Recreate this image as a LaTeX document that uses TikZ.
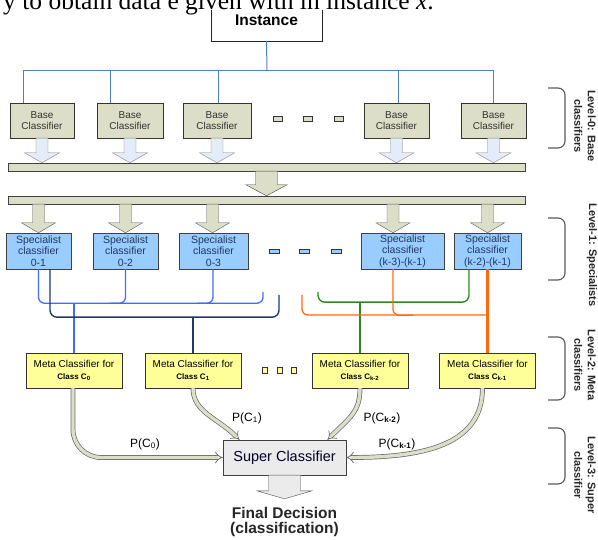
\documentclass[tikz,border=0pt]{standalone}
\usepackage{fontspec}
\setmainfont{Liberation Sans}
\setsansfont{Liberation Sans}
\newfontfamily\pageserif{Liberation Serif}
\usetikzlibrary{positioning, calc, arrows.meta}
\definecolor{olivebox}{HTML}{DCDEC7}
\definecolor{paleblue}{HTML}{E3ECF8}
\definecolor{specblue}{HTML}{99CCFF}
\definecolor{metayellow}{HTML}{FFFF99}
\definecolor{supergray}{HTML}{EBEBEB}
\definecolor{treeblue}{HTML}{4F81BD}
\definecolor{linkblue}{HTML}{3F6BFF}
\definecolor{linknavy}{HTML}{1F3B6E}
\definecolor{linkgreen}{HTML}{2C8A1E}
\definecolor{linkorange}{HTML}{FF6A10}
\definecolor{textnavy}{HTML}{1F3864}
\tikzset{
	basebox/.style={draw=black!80, fill=olivebox, minimum height=35pt, inner sep=0pt,
		align=center, font=\fontsize{10}{11.5}\selectfont\color{black!80}}
}
\tikzset{
	specbox/.style={draw=black!75, fill=specblue, minimum height=36pt, inner sep=0pt,
		align=center, font=\fontsize{10.5}{11.5}\selectfont\color{textnavy}}
}
\tikzset{
	metabox/.style={draw=black!80, fill=metayellow, minimum width=96pt, minimum height=35pt,
		inner sep=0pt, align=center, font=\fontsize{10}{12}\selectfont}
}
\tikzset{
	barbox/.style={draw=black!75, fill=olivebox, minimum width=517pt, minimum height=8pt, inner sep=0pt},
	dotbox/.style={draw=black!80, minimum width=9pt, minimum height=5pt, inner sep=0pt},
	tree/.style={treeblue, line width=1pt},
	pipe/.style={draw=black!60, double=olivebox, line width=0.7pt, double distance=3.4pt, -{Implies}},
	plabel/.style={font=\fontsize{12}{12}\selectfont, inner sep=1pt},
	level/.style={rotate=-90, align=center, font=\bfseries\fontsize{11}{13.5}\selectfont\color{black!85}},
	brack/.style={draw=black!65, line width=1.1pt, rounded corners=7pt}
}
% block arrow pointing down: from, to, half shaft, half head, head length, style
\newcommand{\fatdown}[6]{%
	\filldraw[#6] let \p1=(#1), \p2=(#2) in
	({\x1-#3},{\y1}) -- ({\x1-#3},{\y2+#5}) -- ({\x1-#4},{\y2+#5}) -- ({\x1},{\y2})
	-- ({\x1+#4},{\y2+#5}) -- ({\x1+#3},{\y2+#5}) -- ({\x1+#3},{\y1}) -- cycle;}

\begin{document}
\begin{tikzpicture}[x=1pt,y=-1pt]
      \useasboundingbox (0,0) rectangle (598,540);
      \clip (0,0) rectangle (598,540);

      % instance and the split to the base classifiers
      \node[draw=black!85, minimum width=111pt, minimum height=42pt, inner sep=0pt,
        font=\bfseries\fontsize{15.5}{16}\selectfont] (inst) at (266.5,20) {\raisebox{-2pt}{Instance}};
      \fill[white] (200,-2) rectangle (340,10);
      \node[anchor=base west, inner sep=0pt, font=\pageserif\fontsize{25.5}{28}\selectfont]
        (topline) at (3,9.5) {y to obtain data e given with in instance \textit{x}.};
      \coordinate (split) at (267,71);
      \draw[tree] (inst.south) -- (split);

      % level 0
      \foreach \b/\x/\w in {b1/42/64, b2/130/66, b3/217/68, b4/396.5/65, b5/493.5/65}
        \node[basebox, minimum width=\w pt] (\b) at (\x,120.5) {Base\\Classifier};
      \foreach \x in {278,308,339}
        \node[dotbox, fill=olivebox] (dz\x) at (\x,118.5) {};
      \foreach \b/\dx in {b1/-19, b2/-20, b3/1, b4/1.5, b5/-0.5}
        \draw[tree] (split) -| ([xshift=\dx pt]\b.north);

      \node[barbox] (bar1) at (266.5,167) {};
      \node[barbox] (bar2) at (266.5,200) {};
      \foreach \b in {b1,b2,b3,b4,b5}
        \fatdown{\b.south}{\b.south |- bar1.north}{6pt}{17.5pt}{10pt}{draw=black!50, fill=paleblue};
      \fatdown{bar1.south}{bar1.south |- bar2.north}{11pt}{20.5pt}{11pt}{draw=black!75, fill=olivebox};

      % level 1
      \foreach \s/\x/\w/\t in {s1/38.5/65/0-1, s2/125.5/65/0-2, s3/213.5/69/0-3,
          s4/402.5/83/(k-3)-(k-1), s5/487.5/67/(k-2)-(k-1)}
        \node[specbox, minimum width=\w pt] (\s) at (\x,251) {Specialist\\classifier\\\t};
      \foreach \x in {274,304,336}
        \node[dotbox, fill=specblue, minimum width=10pt, minimum height=4.5pt] (do\x) at (\x,251) {};
      \foreach \s/\dx in {s1/0, s2/0, s3/-1, s4/-9.5, s5/0}
        \fatdown{$(\s.north |- bar2.south)+(\dx,0)$}{$(\s.north)+(\dx,0)$}{6pt}{17pt}{10pt}{draw=black!65, fill=olivebox};

      % level 2
      \node[metabox] (m1) at (74,370.5) {Meta Classifier for\\\textbf{\footnotesize Class C\textsubscript{0}}};
      \node[metabox] (m2) at (193,370.5) {Meta Classifier for\\\textbf{\footnotesize Class C\textsubscript{1}}};
      \node[metabox] (m3) at (360,370.5) {Meta Classifier for\\\textbf{\footnotesize Class C\textsubscript{k-2}}};
      \node[metabox] (m4) at (487.5,370.5) {Meta Classifier for\\\textbf{\footnotesize Class C\textsubscript{k-1}}};
      \foreach \x in {264.5,279.5,293.5}
        \node[dotbox, fill=metayellow, minimum width=5.5pt, minimum height=5.5pt] (dm\x) at (\x,370) {};

      % links from the specialists to the meta classifiers
      \coordinate (lbend) at (263,292);
      \coordinate (nbend) at (279,295);
      \coordinate (gbend) at (318,292);
      \coordinate (obend) at (302,295);
      \draw[linkblue, line width=1.3pt, rounded corners=6pt] (s1.south) -- ++(0,34) -| (lbend);
      \draw[linkblue, line width=1.3pt, rounded corners=6pt] (s2.south) |- +(-16,34);
      \draw[linkblue, line width=1.3pt, rounded corners=6pt] ([xshift=-0.5pt]s3.south) |- +(-16,34);
      \draw[linkblue, line width=2.6pt] (m1.north) -- ++(0,-50);
      \draw[linknavy, line width=1.4pt, rounded corners=7pt] ([xshift=11.5pt]s1.south) -- ++(0,48) -| (nbend);
      \draw[linknavy, line width=2.6pt] (m2.north) -- ++(0,-36);
      \draw[linkgreen, line width=1.4pt, rounded corners=7pt] ([xshift=-18.5pt]s5.south) -- ++(0,33) -| (gbend);
      \draw[linkgreen, line width=2pt] (m3.north) -- ++(0,-51);
      \draw[linkorange, line width=1.3pt, rounded corners=6pt] (obend) -- ++(0,20) -- ++(185,0);
      \draw[linkorange, line width=1.3pt, rounded corners=6pt] ([xshift=-9.5pt]s4.south) |- +(20,46);
      \draw[linkorange, line width=2.6pt] (s5.south) -- (m4.north);

      % level 3
      \node[draw=black!75, fill=supergray, minimum width=123pt, minimum height=35pt, inner sep=0pt,
        font=\fontsize{14.5}{15}\selectfont\color{black!75!blue!60!black}] (sup) at (284.5,457.5) {Super Classifier};
      \node[align=center, inner sep=1pt, font=\bfseries\fontsize{15.5}{15.5}\selectfont\color{black!85}]
        (final) at (284.5,522) {Final Decision\\(classification)};
      \fatdown{sup.south}{[yshift=7pt]final.north}{16pt}{27.5pt}{8pt}{draw=black!70, fill=supergray};

      \draw[pipe, rounded corners=28pt] ([xshift=-1pt]m1.south) |- (sup.west);
      \draw[pipe] (m2.south) .. controls +(0,24) and +(-22,-22) .. ([xshift=-45pt]sup.north);
      \draw[pipe] (m3.south) .. controls +(0,24) and +(22,-22) .. ([xshift=43pt]sup.north);
      \draw[pipe] ([xshift=-5pt]m4.south) .. controls +(0,58) and +(75,0) .. (sup.east);
      \node[plabel] (pc0) at (145,444) {P(C\textsubscript{0})};
      \node[plabel] (pc1) at (247,418) {P(C\textsubscript{1})};
      \node[plabel] (pck2) at (382,418) {P(C\textsubscript{\textbf{k-2}})};
      \node[plabel] (pck1) at (397,444) {P(C\textsubscript{\textbf{k-1}})};

      % level brackets
      \draw[brack] (548,88) -| (565,148) -- (548,148);
      \draw[brack] (548,218) -| (565,280) -- (548,280);
      \draw[brack] (548,337) -| (565,400) -- (548,400);
      \draw[brack] (548,428) -| (565,484) -- (548,484);
      \node[level] (lv0) at (585,126) {Level-0: Base\\classifiers};
      \node[level] (lv1) at (592,255) {Level-1: Specialists};
      \node[level] (lv2) at (585,365) {Level-2: Meta\\classifiers};
      \node[level] (lv3) at (585,475) {Level-3: Super\\classifier};
\end{tikzpicture}
\end{document}
